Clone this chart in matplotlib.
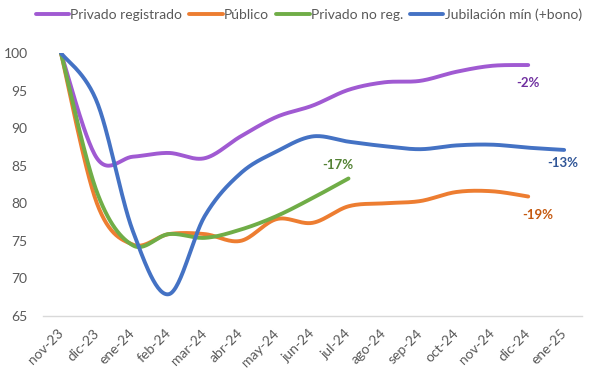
import numpy as np
import matplotlib
matplotlib.use("Agg")
import matplotlib.pyplot as plt

months = ["nov-23", "dic-23", "ene-24", "feb-24", "mar-24", "abr-24", "may-24",
          "jun-24", "jul-24", "ago-24", "sep-24", "oct-24", "nov-24", "dic-24", "ene-25"]

privado_registrado = [100, 86.0, 86.2, 86.7, 86.0, 88.9, 91.5, 93.0, 95.1, 96.1, 96.3, 97.5, 98.3, 98.4]
publico = [100, 80.0, 74.5, 75.9, 75.9, 75.0, 77.9, 77.4, 79.6, 80.0, 80.3, 81.5, 81.6, 80.9]
privado_no_reg = [100, 81.5, 74.4, 75.9, 75.4, 76.5, 78.3, 80.7, 83.3]
jubilacion = [100, 93.5, 76.3, 67.9, 78.3, 84.0, 86.9, 88.9, 88.2, 87.6, 87.2, 87.7, 87.8, 87.4, 87.1]

series_names = ["Privado registrado", "Público", "Privado no reg.", "Jubilación mín (+bono)"]
end_labels = ["-2%", "-19%", "-17%", "-13%"]

colors = ["#A05AD2", "#ED7D31", "#70AD47", "#4472C4"]
label_colors = ["#7030A0", "#C55A11", "#548235", "#2F5597"]
label_pos = [(13.0, 96.0), (13.27, 78.5), (7.7, 85.1), (13.97, 85.4)]


def smooth(y, n=30):
    """Excel-like smoothed line (Catmull-Rom as cubic Bezier)."""
    x = np.arange(len(y), dtype=float)
    pts = np.column_stack([x, np.asarray(y, dtype=float)])
    out = []
    for i in range(len(pts) - 1):
        p0 = pts[i - 1] if i > 0 else pts[i]
        p1 = pts[i]
        p2 = pts[i + 1]
        p3 = pts[i + 2] if i + 2 < len(pts) else pts[i + 1]
        c1 = p1 + (p2 - p0) / 6.0
        c2 = p2 - (p3 - p1) / 6.0
        t = np.linspace(0, 1, n, endpoint=(i == len(pts) - 2))[:, None]
        seg = ((1 - t) ** 3) * p1 + 3 * ((1 - t) ** 2) * t * c1 + 3 * (1 - t) * t ** 2 * c2 + t ** 3 * p2
        out.append(seg)
    out = np.vstack(out)
    return out[:, 0], out[:, 1]


plt.rcParams['font.family'] = ['Lato', 'DejaVu Sans']

fig = plt.figure(figsize=(5.94, 3.77), dpi=100)
ax = fig.add_axes([0.0724, 0.1618, 0.9076, 0.6976])

data = [privado_registrado, publico, privado_no_reg, jubilacion]
for vals, name, c in zip(data, series_names, colors):
    xs, ys = smooth(vals)
    ax.plot(xs, ys, color=c, lw=2.8, label=name, solid_capstyle='round')

for (lx, ly), txt, c in zip(label_pos, end_labels, label_colors):
    ax.text(lx, ly, txt, color=c, fontsize=9.5, fontweight='bold', ha='center', va='center')

ax.set_xlim(-0.5, len(months) - 0.5)
ax.set_ylim(65, 100)
ax.set_yticks(np.arange(65, 101, 5))
ax.set_xticks(np.arange(len(months)))
ax.set_xticklabels(months, rotation=45, ha='right', va='center', rotation_mode='anchor')
ax.tick_params(axis='both', length=0, labelsize=10, colors='#595959')
ax.tick_params(axis='x', pad=11)
ax.tick_params(axis='y', pad=11)
for s in ['top', 'right', 'left']:
    ax.spines[s].set_visible(False)
ax.spines['bottom'].set_color('#D9D9D9')
ax.spines['bottom'].set_linewidth(1)

leg = fig.legend(loc='upper center', bbox_to_anchor=(0.52, 1.01), ncol=4, frameon=False,
                 fontsize=10, handlelength=2.4, handletextpad=0.1, columnspacing=0.5)
for t in leg.get_texts():
    t.set_color('#595959')

fig.savefig("out.png", dpi=100)
